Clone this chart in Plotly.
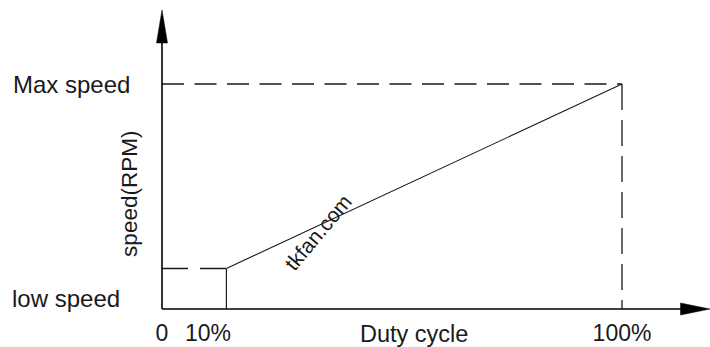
import plotly.graph_objects as go

# Schematic data
duty_cycle = [0, 14, 100]          # % duty, knee and max
speed_pct = [18, 18, 100]          # % of max speed
x_tick_vals = [0, 10, 100]
x_tick_text = ["0", "10%", "100%"]
y_labels = ["low speed", "Max speed"]

FONT = "Liberation Sans, Arial, sans-serif"
INK = "#1a1a1a"

fig = go.Figure()

# low speed dashed line (0 -> knee)
fig.add_trace(go.Scatter(x=duty_cycle[:2], y=speed_pct[:2], mode="lines",
                         line=dict(color=INK, width=1.3, dash="26px,12px"),
                         hoverinfo="skip", showlegend=False))
# vertical solid at knee
fig.add_trace(go.Scatter(x=[duty_cycle[1], duty_cycle[1]], y=[speed_pct[1], 0], mode="lines",
                         line=dict(color=INK, width=1.2), hoverinfo="skip", showlegend=False))
# diagonal ramp
fig.add_trace(go.Scatter(x=duty_cycle[1:], y=speed_pct[1:], mode="lines",
                         line=dict(color=INK, width=1.1), hoverinfo="skip", showlegend=False))
# max speed horizontal dashed
fig.add_trace(go.Scatter(x=[duty_cycle[0], duty_cycle[2]], y=[speed_pct[2], speed_pct[2]], mode="lines",
                         line=dict(color=INK, width=1.3, dash="22px,10.5px"),
                         hoverinfo="skip", showlegend=False))
# 100% vertical dashed
fig.add_trace(go.Scatter(x=[duty_cycle[2], duty_cycle[2]], y=[speed_pct[2], 0], mode="lines",
                         line=dict(color=INK, width=1.3, dash="26px,10px"),
                         hoverinfo="skip", showlegend=False))

W, H = 710, 347
L, R, T, B = 162, 0, 10, 38
px_per_unit_x = (622 - 162) / 100.0
px_per_unit_y = (309 - 84) / 100.0
x_max = (W - L - R) / px_per_unit_x
y_max = (H - T - B) / px_per_unit_y

shapes = [
    # axes lines
    dict(type="line", xref="paper", yref="paper", x0=0, x1=0, y0=0, y1=0.95,
         line=dict(color="black", width=1.6)),
    dict(type="line", xref="paper", yref="paper", x0=0, x1=0.97, y0=0, y1=0,
         line=dict(color="black", width=1.6)),
    # arrow heads
    dict(type="path", xref="paper", yref="paper", xsizemode="pixel", ysizemode="pixel",
         xanchor=0, yanchor=1, path="M0,0 L-5.5,-33 L5.5,-33 Z",
         fillcolor="black", line=dict(color="black", width=0.5)),
    dict(type="path", xref="paper", yref="paper", xsizemode="pixel", ysizemode="pixel",
         xanchor=1, yanchor=0, path="M0,0 L-29.5,6 L-29.5,-6 Z",
         fillcolor="black", line=dict(color="black", width=0.5)),
]

annotations = [
    dict(text=y_labels[1], xref="paper", yref="y", x=0, y=speed_pct[2], xshift=-30,
         xanchor="right", yanchor="middle", showarrow=False,
         font=dict(family=FONT, size=24, color=INK)),
    dict(text=y_labels[0], xref="paper", yref="y", x=0, y=0, xshift=-40, yshift=11,
         xanchor="right", yanchor="middle", showarrow=False,
         font=dict(family=FONT, size=24, color=INK)),
    dict(text="speed(RPM)", xref="paper", yref="paper", x=0, y=0.385, xshift=-32,
         xanchor="center", yanchor="middle", textangle=-90, showarrow=False,
         font=dict(family=FONT, size=22.5, color=INK)),
    dict(text="Duty cycle", xref="paper", yref="paper", x=(414 - L) / (W - L - R), y=0,
         yshift=-25, xanchor="center", yanchor="middle", showarrow=False,
         font=dict(family=FONT, size=23.5, color=INK)),
    dict(text="tkfan.com", xref="paper", yref="paper",
         x=(318 - L) / (W - L - R), y=(H - B - 233) / (H - T - B),
         xanchor="center", yanchor="middle", textangle=-50, showarrow=False,
         font=dict(family=FONT, size=21, color=INK)),
]

fig.update_layout(
    width=W, height=H,
    margin=dict(l=L, r=R, t=T, b=B, pad=0),
    paper_bgcolor="white", plot_bgcolor="white",
    shapes=shapes, annotations=annotations,
    xaxis=dict(range=[0, x_max], showgrid=False, zeroline=False, showline=False,
               tickvals=x_tick_vals, ticktext=x_tick_text, ticks="",
               ticklabelstandoff=8,
               tickfont=dict(family=FONT, size=23, color=INK), fixedrange=True),
    yaxis=dict(range=[0, y_max], showgrid=False, zeroline=False, showline=False,
               showticklabels=False, ticks="", fixedrange=True),
    showlegend=False,
)

fig.write_html("out.html", config={"displayModeBar": False},
               post_script="document.body.style.margin='0';document.body.style.padding='0';")
